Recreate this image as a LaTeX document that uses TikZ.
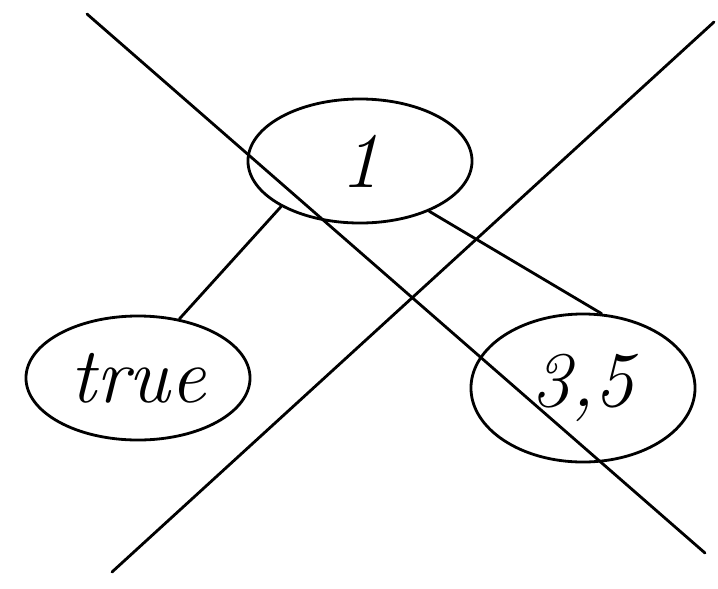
\documentclass[tikz,border=0pt]{standalone}
\usepackage{tikz}
\usetikzlibrary{shapes.geometric}

\begin{document}
\begin{tikzpicture}[x=0.025cm,y=-0.025cm,line width=2pt,line cap=round,line join=round,
    every node/.style={font=\fontsize{56}{62}\selectfont\itshape},
    bubble/.style={draw,ellipse,line width=2pt,minimum width=5.6cm,minimum height=3.1cm,inner sep=0pt}]
    \useasboundingbox (0,0) rectangle (718,588);
    \node[bubble] (one) at (360,161) {1};
    \node[bubble] (true) at (138,378) {true};
    \node[bubble,minimum height=3.7cm] (three) at (583,388) {3,5};
    \foreach \x/\y in {one.210/true.55,one.-36/three.76} \draw (\x)--(\y);
    % the big cross over everything
    \coordinate (tl) at (87,14);
    \coordinate (br) at (705,553);
    \coordinate (bl) at (112,572);
    \coordinate (tr) at (714,22);
    \draw (tl)--(br);
    \draw (bl)--(tr);
  \end{tikzpicture}
\end{document}
